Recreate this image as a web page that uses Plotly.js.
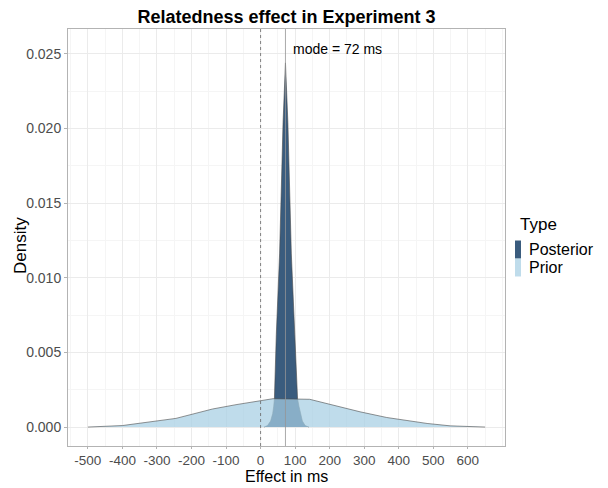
<!DOCTYPE html>
<html>
<head>
<meta charset="utf-8">
<script src="https://cdn.plot.ly/plotly-3.0.1.min.js"></script>
<style>html,body{margin:0;padding:0;background:#fff;}#chart{width:608px;height:488px;}</style>
</head>
<body>
<div id="chart"></div>
<script>
// Data
var priorX = [-500, -400, -245, -187, -139, -71, 2, 36, 142, 220, 288, 365, 482, 549, 650];
var priorY = [0, 0.0001, 0.00058, 0.0009, 0.00121, 0.0015, 0.0018, 0.0019, 0.00186, 0.0014, 0.00102, 0.00064, 0.00024, 0.00008, 0];
var posteriorX = [10, 20, 29, 35, 38, 40, 45.5, 55, 65, 72, 79, 89, 99, 107, 111, 115, 121, 129, 140];
var posteriorY = [0, 0.0001, 0.0004, 0.0009, 0.0014, 0.0019, 0.0062, 0.0116, 0.0204, 0.0244, 0.0204, 0.0116, 0.0062, 0.0019, 0.0014, 0.0009, 0.0004, 0.0001, 0];
var seriesNames = ["Posterior", "Prior"];
var modeValue = 72;
var modeLabel = "mode = 72 ms";
var labelY = 0.0253;
var xTicks = [-500, -400, -300, -200, -100, 0, 100, 200, 300, 400, 500, 600];
var yTicks = [0, 0.005, 0.01, 0.015, 0.02, 0.025];

var postColor = "rgb(58,92,126)";
var priorColor = "rgba(166,206,227,0.72)";
var outline = "#4a4a4a";

var traces = [
  {x: posteriorX, y: posteriorY, type: "scatter", mode: "lines", fill: "tozeroy",
   fillcolor: postColor, line: {color: outline, width: 0.6}, name: seriesNames[0], showlegend: false, hoverinfo: "x+y"},
  {x: priorX, y: priorY, type: "scatter", mode: "lines", fill: "tozeroy",
   fillcolor: priorColor, line: {color: outline, width: 0.6}, name: seriesNames[1], showlegend: false, hoverinfo: "x+y"}
];

var font = "Liberation Sans, Arial, sans-serif";
var layout = {
  width: 608, height: 488,
  margin: {l: 68, r: 103, t: 29, b: 42},
  paper_bgcolor: "#fff", plot_bgcolor: "#fff",
  font: {family: font, color: "#000"},
  title: {text: "<b>Relatedness effect in Experiment 3</b>", font: {family: font, size: 18, color: "#000"},
          x: 0.4712, xanchor: "center", y: 0.966, yanchor: "middle"},
  xaxis: {
    range: [-557.5, 707.5], tickvals: xTicks, ticktext: xTicks.map(String),
    showgrid: true, gridcolor: "#ebebeb", gridwidth: 1,
    minor: {dtick: 50, tick0: 0, showgrid: true, gridcolor: "#f5f5f5", gridwidth: 1, ticks: ""},
    zeroline: false, showline: true, mirror: true, linecolor: "#b3b3b3", linewidth: 1,
    ticks: "outside", ticklen: 2, tickcolor: "#b3b3b3",
    tickfont: {family: font, size: 13.5, color: "#4d4d4d"}
  },
  yaxis: {
    range: [-0.00127, 0.02667], tickvals: yTicks, ticktext: yTicks.map(function(v){return v.toFixed(3);}),
    showgrid: true, gridcolor: "#ebebeb", gridwidth: 1,
    minor: {dtick: 0.0025, tick0: 0, showgrid: true, gridcolor: "#f5f5f5", gridwidth: 1, ticks: ""},
    zeroline: false, showline: true, mirror: true, linecolor: "#b3b3b3", linewidth: 1,
    ticks: "outside", ticklen: 3, tickcolor: "#b3b3b3",
    tickfont: {family: font, size: 14, color: "#4d4d4d"}
  },
  shapes: [
    {type: "line", xref: "x", yref: "paper", x0: 0, x1: 0, y0: 0, y1: 1,
     line: {color: "#666", width: 0.8, dash: "dot"}, layer: "above"},
    {type: "line", xref: "x", yref: "paper", x0: modeValue, x1: modeValue, y0: 0, y1: 1,
     line: {color: "rgba(150,150,150,0.8)", width: 1}, layer: "above"},
    // manual legend keys
    {type: "rect", xref: "paper", yref: "paper", x0: 1.0229, x1: 1.0366, y0: 0.4496, y1: 0.4928,
     fillcolor: postColor, line: {width: 0}},
    {type: "rect", xref: "paper", yref: "paper", x0: 1.0229, x1: 1.0366, y0: 0.4065, y1: 0.4496,
     fillcolor: priorColor, line: {width: 0}}
  ],
  annotations: [
    {x: modeValue + 16, y: labelY, xref: "x", yref: "y", text: modeLabel, showarrow: false,
     xanchor: "left", yanchor: "middle", font: {family: font, size: 14, color: "#000"}},
    {x: 0.5, y: 0, xref: "paper", yref: "paper", yshift: -41, text: "Effect in ms", showarrow: false,
     xanchor: "center", yanchor: "bottom", font: {family: font, size: 16, color: "#000"}},
    {x: -0.11, y: 0.482, xref: "paper", yref: "paper", text: "Density", showarrow: false, textangle: -90,
     xanchor: "center", yanchor: "middle", font: {family: font, size: 17, color: "#000"}},
    {x: 1.0297, y: 0.530, xref: "paper", yref: "paper", text: "Type", showarrow: false,
     xanchor: "left", yanchor: "middle", font: {family: font, size: 17, color: "#000"}},
    {x: 1.0503, y: 0.4712, xref: "paper", yref: "paper", text: seriesNames[0], showarrow: false,
     xanchor: "left", yanchor: "middle", font: {family: font, size: 16, color: "#000"}},
    {x: 1.0503, y: 0.4281, xref: "paper", yref: "paper", text: seriesNames[1], showarrow: false,
     xanchor: "left", yanchor: "middle", font: {family: font, size: 16, color: "#000"}}
  ],
  showlegend: false
};

Plotly.newPlot("chart", traces, layout, {displayModeBar: false, staticPlot: true});
</script>
</body>
</html>
